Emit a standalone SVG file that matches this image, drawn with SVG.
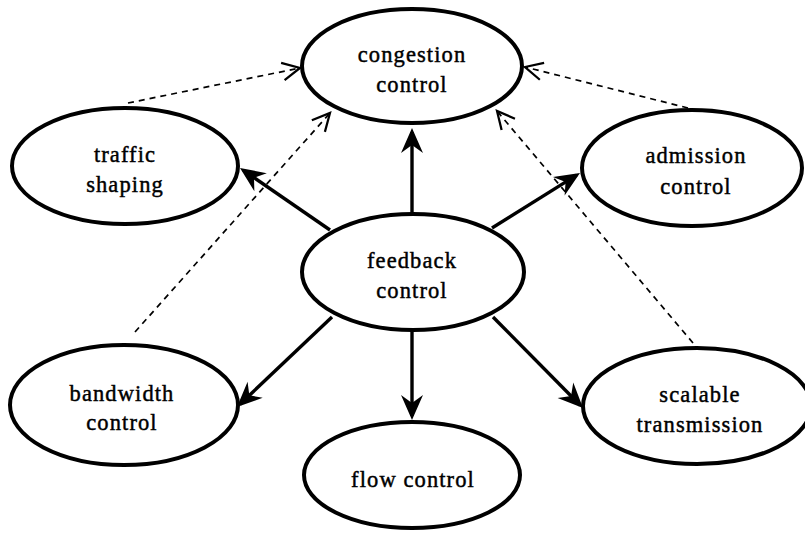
<svg xmlns="http://www.w3.org/2000/svg" width="805" height="534" viewBox="0 0 805 534">
<style>
.node ellipse{fill:#fff;stroke:#000;stroke-width:4}
.node text{font-family:"Liberation Serif","Times New Roman",serif;font-size:22.5px;letter-spacing:1.1px;text-anchor:middle;fill:#000;stroke:#000;stroke-width:0.45}
.solid{stroke:#000;stroke-width:3.4;fill:none;marker-end:url(#ah)}
.dash{stroke:#000;stroke-width:1.7;fill:none;stroke-dasharray:6 5;marker-end:url(#oh)}
</style>
<defs>
<marker id="ah" markerUnits="userSpaceOnUse" orient="auto" refX="0" refY="0" markerWidth="30" markerHeight="30" viewBox="-22 -12 30 24" overflow="visible">
<path d="M4,0 L-21,-11 L-13,0 L-21,11 Z" fill="#000"/>
</marker>
<marker id="oh" markerUnits="userSpaceOnUse" orient="auto" refX="0" refY="0" markerWidth="20" markerHeight="20" viewBox="-14 -8 16 16" overflow="visible">
<path d="M-14,-7 L0,0 L-14,7" fill="none" stroke="#000" stroke-width="1.8"/>
</marker>
</defs>
<rect width="805" height="534" fill="#fff"/>
<g id="connectors">
<line class="solid" x1="412" y1="214" x2="412" y2="132"/>
<line class="solid" x1="330" y1="230" x2="243.3" y2="170.3"/>
<line class="solid" x1="492" y1="228" x2="576.6" y2="175.1"/>
<line class="solid" x1="332" y1="317" x2="239.9" y2="404.3"/>
<line class="solid" x1="412" y1="331" x2="412" y2="416"/>
<line class="solid" x1="493" y1="317" x2="580.2" y2="405.2"/>
<line class="dash" x1="128" y1="103" x2="300" y2="68"/>
<line class="dash" x1="135" y1="332" x2="330" y2="113"/>
<line class="dash" x1="688" y1="108" x2="525" y2="67"/>
<line class="dash" x1="693" y1="343" x2="497" y2="111"/>
</g>
<g id="congestion" class="node">
<ellipse cx="412" cy="66" rx="110" ry="57"/>
<text x="412" y="62">congestion</text>
<text x="412" y="92">control</text>
</g>
<g id="traffic" class="node">
<ellipse cx="125" cy="166" rx="113" ry="58"/>
<text x="125" y="162">traffic</text>
<text x="125" y="192">shaping</text>
</g>
<g id="admission" class="node">
<ellipse cx="692" cy="168" rx="110" ry="58"/>
<text x="696" y="163">admission</text>
<text x="696" y="194">control</text>
</g>
<g id="feedback" class="node">
<ellipse cx="413" cy="272" rx="111" ry="58"/>
<text x="412" y="268">feedback</text>
<text x="412" y="298">control</text>
</g>
<g id="bandwidth" class="node">
<ellipse cx="124" cy="405" rx="114" ry="60"/>
<text x="122" y="401">bandwidth</text>
<text x="122" y="430">control</text>
</g>
<g id="scalable" class="node">
<ellipse cx="697" cy="406" rx="114" ry="58"/>
<text x="700" y="402">scalable</text>
<text x="700" y="432">transmission</text>
</g>
<g id="flow" class="node">
<ellipse cx="412" cy="475" rx="108" ry="53"/>
<text x="413" y="487">flow control</text>
</g>
</svg>
